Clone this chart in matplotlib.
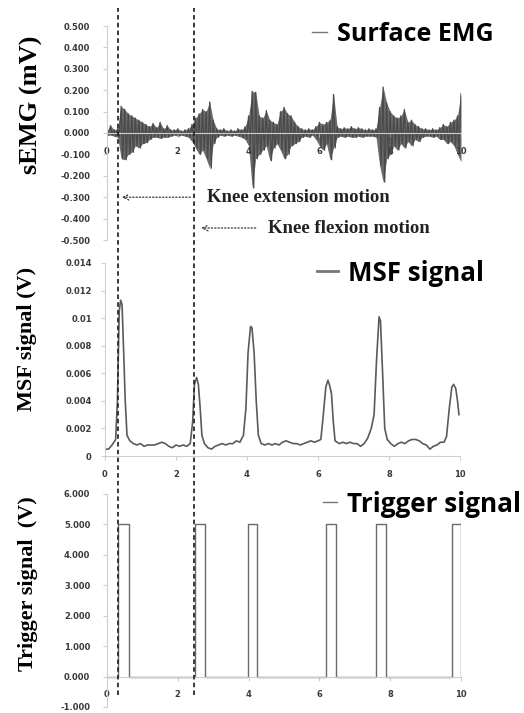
import matplotlib.pyplot as plt
import matplotlib.transforms as mtransforms
from matplotlib.lines import Line2D
import numpy as np

# EMG envelope, one value every 0.1 s (upper / lower peaks)
emg_time = np.round(np.arange(0, 10.01, 0.1), 2)
emg_upper = [0.01, 0.035, 0.015, 0.02, 0.125, 0.11, 0.09, 0.08, 0.07, 0.06,
             0.05, 0.04, 0.03, 0.045, 0.025, 0.05, 0.02, 0.035, 0.015, 0.015,
             0.02, 0.01, 0.015, 0.02, 0.04, 0.07, 0.09, 0.11, 0.1, 0.145,
             0.06, 0.02, 0.015, 0.02, 0.01, 0.015, 0.01, 0.02, 0.015, 0.03,
             0.08, 0.195, 0.19, 0.08, 0.07, 0.105, 0.06, 0.05, 0.04, 0.1,
             0.12, 0.09, 0.08, 0.05, 0.03, 0.02, 0.015, 0.02, 0.015, 0.03,
             0.05, 0.04, 0.05, 0.06, 0.18, 0.03, 0.02, 0.025, 0.02, 0.03,
             0.02, 0.025, 0.02, 0.015, 0.02, 0.015, 0.02, 0.12, 0.215, 0.14,
             0.1, 0.08, 0.07, 0.08, 0.11, 0.05, 0.06, 0.04, 0.03, 0.02,
             0.02, 0.015, 0.02, 0.015, 0.025, 0.04, 0.03, 0.05, 0.06, 0.08,
             0.185]
emg_lower = [-0.01, -0.01, -0.015, -0.02, -0.12, -0.125, -0.1, -0.09, -0.06, -0.07,
             -0.05, -0.045, -0.03, -0.02, -0.02, -0.025, -0.02, -0.02, -0.015, -0.01,
             -0.015, -0.01, -0.015, -0.02, -0.04, -0.07, -0.1, -0.08, -0.12, -0.165,
             -0.05, -0.02, -0.01, -0.015, -0.01, -0.015, -0.01, -0.015, -0.02, -0.03,
             -0.06, -0.257, -0.12, -0.1, -0.08, -0.06, -0.13, -0.07, -0.05, -0.08,
             -0.12, -0.1, -0.06, -0.05, -0.04, -0.02, -0.015, -0.02, -0.01, -0.03,
             -0.06, -0.08, -0.05, -0.125, -0.07, -0.02, -0.015, -0.02, -0.015, -0.02,
             -0.02, -0.015, -0.02, -0.015, -0.015, -0.015, -0.02, -0.15, -0.23, -0.12,
             -0.1, -0.06, -0.08, -0.05, -0.07, -0.04, -0.06, -0.03, -0.04, -0.02,
             -0.015, -0.015, -0.02, -0.015, -0.03, -0.03, -0.05, -0.04, -0.06, -0.1,
             -0.135]

msf_time = [0.0, 0.1, 0.2, 0.3, 0.35, 0.4, 0.44, 0.48, 0.52, 0.57, 0.62, 0.7, 0.8, 0.9,
            1.0, 1.1, 1.2, 1.3, 1.4, 1.5, 1.6, 1.7, 1.8, 1.9, 2.0, 2.1, 2.2, 2.3, 2.4,
            2.47, 2.52, 2.58, 2.63, 2.68, 2.73, 2.8, 2.9, 3.0, 3.1, 3.2, 3.3, 3.4, 3.5,
            3.6, 3.7, 3.8, 3.9, 3.97, 4.03, 4.1, 4.14, 4.2, 4.26, 4.32, 4.4, 4.5, 4.6,
            4.7, 4.8, 4.9, 5.0, 5.1, 5.2, 5.3, 5.4, 5.5, 5.6, 5.7, 5.8, 5.9, 6.0, 6.08,
            6.15, 6.22, 6.28, 6.33, 6.38, 6.43, 6.48, 6.6, 6.7, 6.8, 6.9, 7.0, 7.1, 7.2,
            7.3, 7.4, 7.5, 7.58, 7.65, 7.72, 7.76, 7.82, 7.88, 7.95, 8.05, 8.15, 8.25,
            8.35, 8.45, 8.55, 8.65, 8.75, 8.85, 8.95, 9.05, 9.15, 9.25, 9.35, 9.45, 9.55,
            9.62, 9.7, 9.77, 9.82, 9.88, 9.93, 9.97]
msf_value = [0.0005, 0.0005, 0.0008, 0.0012, 0.004, 0.0105, 0.0113, 0.011, 0.008, 0.004,
             0.0015, 0.0011, 0.0009, 0.0008, 0.0009, 0.0007, 0.0008, 0.0008, 0.0008,
             0.0009, 0.001, 0.0009, 0.0007, 0.0006, 0.0008, 0.0007, 0.0008, 0.0007,
             0.0009, 0.0025, 0.0052, 0.0057, 0.0052, 0.0035, 0.0015, 0.0009, 0.0006,
             0.0005, 0.0007, 0.0008, 0.0009, 0.0008, 0.0009, 0.0009, 0.0011, 0.001,
             0.0015, 0.0035, 0.0075, 0.0094, 0.0093, 0.0075, 0.004, 0.0015, 0.0009,
             0.0008, 0.0009, 0.0008, 0.0009, 0.0008, 0.001, 0.0011, 0.001, 0.0009,
             0.0009, 0.0008, 0.0009, 0.001, 0.0011, 0.001, 0.0011, 0.0012, 0.003,
             0.005, 0.0055, 0.0051, 0.0045, 0.0025, 0.0011, 0.0009, 0.001, 0.0009,
             0.001, 0.0009, 0.0009, 0.0007, 0.0009, 0.0013, 0.002, 0.003, 0.007,
             0.0101, 0.0098, 0.006, 0.002, 0.0012, 0.0009, 0.0007, 0.0009, 0.001,
             0.0009, 0.0011, 0.0012, 0.0012, 0.0011, 0.0009, 0.0008, 0.0005, 0.0007,
             0.0008, 0.001, 0.001, 0.0014, 0.0035, 0.005, 0.0052, 0.0049, 0.004, 0.003]

# trigger pulses (on, off) in seconds, 5 V high
trigger_on = [0.32, 2.49, 3.97, 6.20, 7.59, 9.74]
trigger_off = [0.61, 2.77, 4.25, 6.48, 7.87, 10.0]
trigger_level = 5.0

event_times = [0.31, 2.46]  # dashed markers

x_ticks = [0, 2, 4, 6, 8, 10]
emg_yticks = [0.5, 0.4, 0.3, 0.2, 0.1, 0.0, -0.1, -0.2, -0.3, -0.4, -0.5]
msf_yticks = [0, 0.002, 0.004, 0.006, 0.008, 0.01, 0.012, 0.014]
msf_yticklabels = ["0", "0.002", "0.004", "0.006", "0.008", "0.01", "0.012", "0.014"]
trig_yticks = [-1, 0, 1, 2, 3, 4, 5, 6]

# build plotting arrays
emg_x = np.column_stack([emg_time, emg_time + 0.045]).ravel()
emg_y = np.column_stack([emg_upper, emg_lower]).ravel()

trig_x = [0.0]
trig_y = [0.0]
for on, off in zip(trigger_on, trigger_off):
    trig_x += [on, on, off, off]
    trig_y += [0.0, trigger_level, trigger_level, 0.0]
if trig_x[-1] < 10:
    trig_x.append(10.0)
    trig_y.append(0.0)

fig = plt.figure(figsize=(5.24, 7.13), dpi=100)
W, H = 524.0, 713.0
ax1 = fig.add_axes([107 / W, 1 - 240 / H, 354 / W, 214 / H])
ax2 = fig.add_axes([105 / W, 1 - 456 / H, 355 / W, 193 / H])
ax3 = fig.add_axes([107 / W, 1 - 707 / H, 354 / W, 213 / H])

spine_col = "#cfcfcf"
tick_font = dict(fontsize=6, fontweight="bold", color="#3a3a3a")
serif = "Liberation Serif"

for ax in (ax1, ax2, ax3):
    ax.set_facecolor("none")
    for s in ("top", "right"):
        ax.spines[s].set_visible(False)
    ax.spines["left"].set_color(spine_col)
    ax.spines["bottom"].set_color(spine_col)
    ax.spines["bottom"].set_position(("data", 0))
    ax.set_xlim(0, 10)
    ax.set_xticks(x_ticks)
    ax.set_xticklabels([str(v) for v in x_ticks], **tick_font)
    ax.tick_params(axis="both", length=3, color=spine_col, width=0.8)
    ax.tick_params(axis="x", pad=7)
    ax.tick_params(axis="y", pad=9)

# top: EMG
ax1.fill_between(emg_time, emg_lower, emg_upper, color="#6b6b6b", lw=0)
ax1.plot(emg_x, emg_y, color="#4a4a4a", lw=0.9)
ax1.set_ylim(-0.5, 0.5)
ax1.set_yticks(emg_yticks)
ax1.set_yticklabels([f"{v:.3f}" for v in emg_yticks], **tick_font)
ax1.set_ylabel("sEMG (mV)", fontfamily=serif, fontweight="bold", fontsize=19)
ax1.legend([Line2D([], [], color="#777777", lw=1)], ["Surface EMG"],
           loc="center left", bbox_to_anchor=(0.579, 0.96), frameon=False,
           handlelength=0.6, handletextpad=0.4, borderpad=0, borderaxespad=0,
           prop=dict(family="Open Sans", weight="bold", size=18))

ax1.annotate("", xy=(0.34, -0.30), xytext=(2.43, -0.30),
             arrowprops=dict(arrowstyle="->", ls=":", color="#333333", lw=0.9))
ax1.text(2.83, -0.30, "Knee extension motion", fontfamily=serif, fontweight="bold",
         fontsize=13.5, va="center", ha="left", color="#222222")
ax1.annotate("", xy=(2.58, -0.444), xytext=(4.28, -0.444),
             arrowprops=dict(arrowstyle="->", ls=":", color="#333333", lw=0.9),
             annotation_clip=False)
ax1.text(4.56, -0.444, "Knee flexion motion", fontfamily=serif, fontweight="bold",
         fontsize=13.5, va="center", ha="left", color="#222222", clip_on=False)

# middle: MSF
ax2.plot(msf_time, msf_value, color="#5a5a5a", lw=1.2)
ax2.set_ylim(0, 0.014)
ax2.set_yticks(msf_yticks)
ax2.set_yticklabels(msf_yticklabels, **tick_font)
ax2.set_ylabel("MSF signal (V)", fontfamily=serif, fontweight="bold", fontsize=16)
ax2.tick_params(axis="y", pad=6.5)
ax2.legend([Line2D([], [], color="#777777", lw=2)], ["MSF signal"],
           loc="center left", bbox_to_anchor=(0.597, 0.948), frameon=False,
           handlelength=0.8, handletextpad=0.4, borderpad=0, borderaxespad=0,
           prop=dict(family="Open Sans", weight="bold", size=18.6))

# bottom: trigger
ax3.plot(trig_x, trig_y, color="#6a6a6a", lw=1.0)
ax3.set_ylim(-1, 6)
ax3.set_yticks(trig_yticks)
ax3.set_yticklabels([f"{v:.3f}" for v in trig_yticks], **tick_font)
ax3.set_ylabel("Trigger signal  (V)", fontfamily=serif, fontweight="bold", fontsize=16)
ax3.legend([Line2D([], [], color="#777777", lw=1)], ["Trigger signal"],
           loc="center left", bbox_to_anchor=(0.610, 0.953), frameon=False,
           handlelength=0.54, handletextpad=0.4, borderpad=0, borderaxespad=0,
           prop=dict(family="Open Sans", weight="bold", size=18.8))

ax1.yaxis.set_label_coords(-64 / 354, 0.63)
ax2.yaxis.set_label_coords(-68 / 355, 0.606)
ax3.yaxis.set_label_coords(-69 / 354, 0.58)

# dashed event markers running through all panels
blend = mtransforms.blended_transform_factory(ax1.transData, fig.transFigure)
for t in event_times:
    fig.add_artist(Line2D([t, t], [1 - 695 / H, 1 - 8 / H], transform=blend,
                          color="#2a2a2a", lw=1.3, ls=(0, (2.5, 1.8))))

fig.savefig("out.png", dpi=100)
plt.close()
